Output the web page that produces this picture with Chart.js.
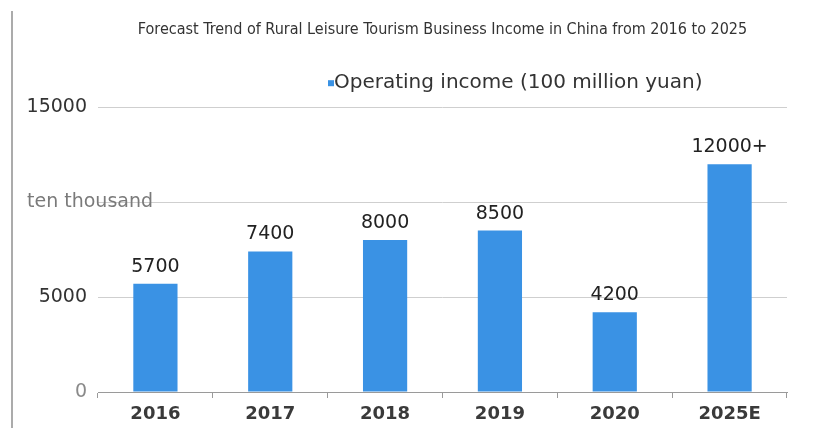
<!DOCTYPE html>
<html>
<head>
<meta charset="utf-8">
<script src="https://cdn.jsdelivr.net/npm/chart.js@4/dist/chart.umd.min.js"></script>
<style>
    html, body { margin: 0; padding: 0; background: #fff; }
    #wrap { width: 813px; height: 428px; position: relative; }
</style>
</head>
<body>
<div id="wrap"><canvas id="barras_renda"></canvas></div>
<script>
const anos = ['2016', '2017', '2018', '2019', '2020', '2025E'];
const receita = [5700, 7400, 8000, 8500, 4200, 12000];
const sufixos = ['', '', '', '', '', '+'];
const ticksY = [0, 5000, 10000, 15000];
const rotulosY = ['0', '5000', 'ten thousand', '15000'];
const coresRotulosY = ['#8a8a8a', '#333333', '#7a7a7a', '#333333'];

const titulo = 'Forecast Trend of Rural Leisure Tourism Business Income in China from 2016 to 2025';
const legenda = 'Operating income (100 million yuan)';
const corBarra = '#3a92e4';

// moldura, legenda, rótulos do eixo Y e valores sobre as barras
const extras = {
    id: 'extras',
    beforeDraw(chart) {
        const ctx = chart.ctx;
        ctx.save();
        ctx.fillStyle = '#ababab';
        ctx.fillRect(11, 11, 2, chart.height - 11);
        ctx.restore();
    },
    afterDraw(chart) {
        const ctx = chart.ctx;
        const area = chart.chartArea;
        const y = chart.scales.y;
        ctx.save();

        // legenda
        ctx.font = '20px "DejaVu Sans"';
        ctx.textBaseline = 'middle';
        ctx.textAlign = 'left';
        ctx.fillStyle = chart.data.datasets[0].backgroundColor;
        const legY = area.top - 24;
        ctx.fillRect(328, legY - 3, 6, 6);
        ctx.fillStyle = '#333';
        ctx.fillText(chart.data.datasets[0].label, 334, legY);

        // rótulos do eixo Y
        ctx.font = '19px "DejaVu Sans"';
        const direita = area.left - 11;
        ticksY.forEach((v, i) => {
            const py = y.getPixelForValue(v);
            const w = ctx.measureText(rotulosY[i]).width;
            ctx.fillStyle = coresRotulosY[i];
            if (w > direita - 20) {
                ctx.textAlign = 'left';
                ctx.fillText(rotulosY[i], 27, py);
            } else {
                ctx.textAlign = 'right';
                ctx.fillText(rotulosY[i], direita, py);
            }
        });

        // valores sobre as barras
        ctx.font = '19px "DejaVu Sans"';
        ctx.fillStyle = '#222';
        ctx.textAlign = 'center';
        ctx.textBaseline = 'alphabetic';
        chart.getDatasetMeta(0).data.forEach((bar, i) => {
            ctx.fillText(receita[i] + sufixos[i], bar.x, bar.y - 12);
        });
        ctx.restore();
    }
};

const ctx = document.getElementById('barras_renda').getContext('2d');
new Chart(ctx, {
    type: 'bar',
    data: {
        labels: anos,
        datasets: [{
            label: legenda,
            data: receita,
            backgroundColor: corBarra,
            categoryPercentage: 1,
            barPercentage: 0.385
        }]
    },
    options: {
        responsive: true,
        maintainAspectRatio: false,
        animation: false,
        layout: { padding: { left: 0, right: 26, top: 0, bottom: 0 } },
        plugins: {
            legend: { display: false },
            tooltip: { enabled: false },
            title: {
                display: true,
                fullSize: false,
                text: titulo,
                color: '#333',
                font: { family: '"DejaVu Sans Condensed"', size: 16, weight: 'normal' },
                padding: { top: 20, bottom: 68 }
            }
        },
        scales: {
            x: {
                grid: { display: true, drawOnChartArea: false, drawTicks: true, tickLength: 6, color: '#9a9a9a' },
                border: { display: true, color: '#9a9a9a', width: 1 },
                ticks: {
                    color: '#3a3a3a',
                    padding: 6,
                    font: { family: '"DejaVu Sans"', size: 18, weight: 'bold' }
                },
                afterFit(scale) { scale.height = 36; }
            },
            y: {
                min: 0,
                max: 15000,
                ticks: { display: false, stepSize: 5000 },
                grid: { color: '#cfcfcf', drawTicks: false },
                border: { display: false },
                afterFit(scale) { scale.width = 98; }
            }
        }
    },
    plugins: [extras]
});
</script>
</body>
</html>
